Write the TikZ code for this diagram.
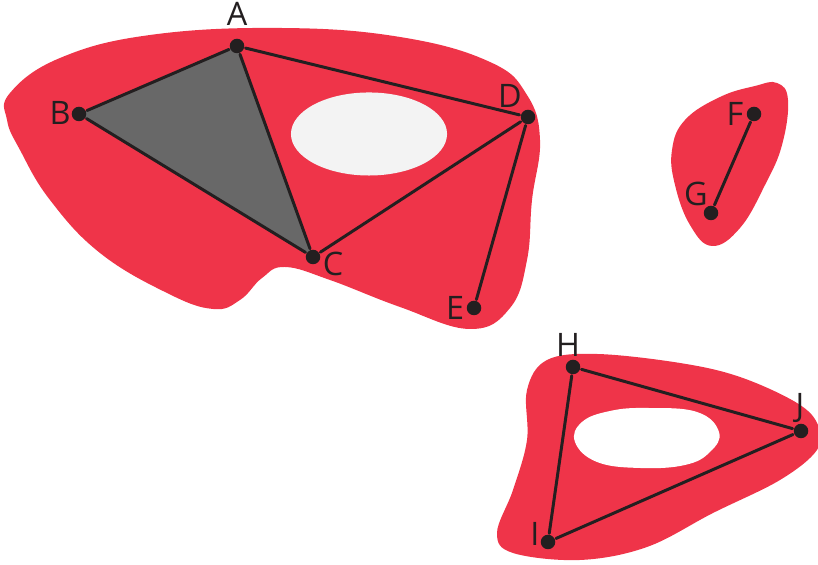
\documentclass[tikz,border=0pt]{standalone}
\usepackage{fontspec}
\setsansfont{Open Sans}
\usetikzlibrary{backgrounds}
\definecolor{cred}{HTML}{EF3449}
\definecolor{cgrey}{HTML}{686868}
\definecolor{chole}{HTML}{F3F3F3}
\definecolor{cink}{HTML}{231F20}
\tikzset{
  every picture/.style={font=\sffamily, line width=0.85pt},
  blob/.style={fill=cred, draw=none},
  hole/.style={fill=#1, draw=none},
  hole/.default=chole,
  edge/.style={draw=cink, line width=0.85pt, line cap=round},
}

\begin{document}
\begin{tikzpicture}[x=0.01cm, y=-0.01cm,
  vtx/.style={circle, fill=cink, minimum size=0.145cm, inner sep=0pt},
  lbl/.style={font=\sffamily\fontsize{9.2}{11}\selectfont, text=cink, inner sep=0pt}]
  \useasboundingbox (0,0) rectangle (818,565);
  % vertices
  \foreach \n/\x/\y in {A/237/46, B/79/114, C/313/257, D/528/117, E/474/308,
      F/754/114, G/711/213, H/573/367, I/548/542, J/801/431}
    \node[vtx] (\n) at (\x,\y) {};
  \foreach \n/\x/\y in {A/237/14, B/60/113, C/333/264, D/510/96, E/455/308,
      F/735/114, G/696/194, H/568/345, I/535/534, J/800/408}
    \node[lbl] (l\n) at (\x,\y) {\n};
  % regions
  \begin{scope}[on background layer]
    \fill[blob] plot[smooth cycle, tension=0.7] coordinates {(10,93) (7,120) (20,150) (50,200)
      (100,253) (167,293) (213,309) (240,300) (262,278) (285,267) (330,280) (400,307)
      (470,329) (510,308) (527,260) (532,200) (540,140) (527,95) (490,62) (400,37)
      (280,28) (150,35) (60,58)};
    \fill[hole] (369,134) ellipse [x radius=0.78cm, y radius=0.415cm];
    \fill[blob] plot[smooth cycle, tension=0.7] coordinates {(777,83) (788,100) (782,145)
      (765,185) (740,228) (712,246) (690,225) (675,185) (672,150) (685,120) (720,97) (755,86)};
    \fill[blob] plot[smooth cycle, tension=0.6] coordinates {(547,360) (597,354) (680,363)
      (740,377) (797,403) (818,425) (817,450) (780,480) (713,513) (647,547) (580,560)
      (513,553) (497,533) (513,490) (527,440) (527,390)};
    \fill[hole=white] plot[smooth cycle, tension=0.7] coordinates {(647,408) (697,412)
      (719,432) (710,452) (685,465) (640,468) (597,462) (575,442) (582,422) (610,411)};
    \fill[cgrey] (A.center) -- (B.center) -- (C.center) -- cycle;
  \end{scope}
  % edges
  \draw[edge] (A) -- (B);
  \draw[edge] (B) -- (C);
  \draw[edge] (A) -- (C);
  \draw[edge] (A) -- (D);
  \draw[edge] (C) -- (D);
  \draw[edge] (D) -- (E);
  \draw[edge] (F) -- (G);
  \draw[edge] (H) -- (I);
  \draw[edge] (H) -- (J);
  \draw[edge] (I) -- (J);
\end{tikzpicture}
\end{document}
